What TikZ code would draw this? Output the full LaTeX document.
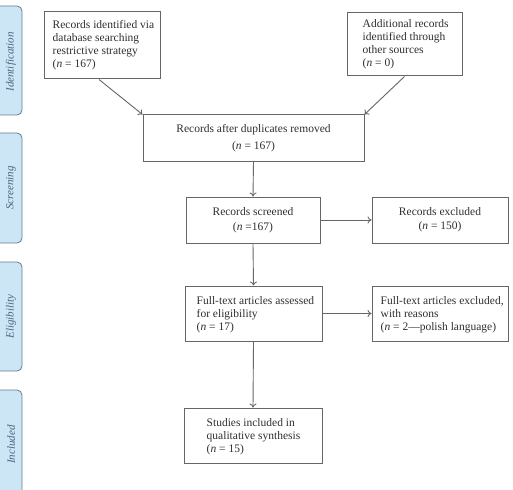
\documentclass[tikz,border=0pt]{standalone}
\usepackage{fontspec}
\setmainfont{Liberation Serif}
\usetikzlibrary{arrows.meta}
\definecolor{tabfill}{HTML}{CDE6F6}
\definecolor{tabline}{HTML}{647E91}
\definecolor{tabtext}{HTML}{45647E}
\definecolor{boxline}{HTML}{666666}
\definecolor{txt}{HTML}{2E2E2E}
\tikzset{
  box/.style={draw=boxline, line width=1pt, rectangle, inner sep=0pt},
  btext/.style={text=txt, font=\fontsize{11.5}{13}\selectfont, inner sep=0pt, align=left, anchor=west},
  ctext/.style={text=txt, font=\fontsize{11.5}{13}\selectfont, align=center},
  tab/.style={draw=tabline, fill=tabfill, line width=0.8pt, rounded corners=5pt},
  tablabel/.style={text=tabtext, font=\fontsize{11}{13}\selectfont\itshape, rotate=90},
  arr/.style={draw=boxline, line width=0.9pt, -{To[length=4pt,width=7pt]}}
}
\begin{document}
\begin{tikzpicture}[x=1pt,y=-1pt]
\useasboundingbox (0,0) rectangle (513,489);
\begin{scope}
\clip (0,0) rectangle (513,489);
\draw[tab] (-6,6) -- (22,6) -- (22,115) -- (-6,115) -- cycle;
\draw[tab] (-6,133) -- (22,133) -- (22,243) -- (-6,243) -- cycle;
\draw[tab] (-6,262) -- (22,262) -- (22,371) -- (-6,371) -- cycle;
\draw[tab] (-6,390) -- (22,390) -- (22,500) -- (-6,500) -- cycle;
\end{scope}
\node[tablabel] (l1) at (11,62) {Identification};
\node[tablabel] (l2) at (11,188) {Screening};
\node[tablabel] (l3) at (11,316.5) {Eligibility};
\node[tablabel] (l4) at (11,444.5) {Included};

% boxes
\node[box, minimum width=116pt, minimum height=67pt] (b1) at (102,45.5) {};
\node[btext] (t1) at ([xshift=9pt]b1.west) {Records identified via\\database searching\\restrictive strategy\\(\textit{n} = 167)};

\node[box, minimum width=115pt, minimum height=63pt] (b2) at (404.5,44.5) {};
\node[btext] (t2) at ([xshift=16pt]b2.west) {Additional records\\identified through\\other sources\\(\textit{n} = 0)};

\node[box, minimum width=221pt, minimum height=46pt, ctext] (b3) at (253.5,138) {Records after duplicates removed\\[4pt](\textit{n} = 167)};

\node[box, minimum width=134pt, minimum height=46pt, ctext] (b4) at (253,220) {Records screened\\[2pt](\textit{n} =167)};

\node[box, minimum width=136pt, minimum height=46pt, ctext] (b5) at (440,220) {Records excluded\\[1pt](\textit{n} = 150)};

\node[box, minimum width=137pt, minimum height=55pt] (b6) at (253.5,313.5) {};
\node[btext] (t6) at ([xshift=12pt,yshift=-1pt]b6.west) {Full-text articles assessed\\for eligibility\\(\textit{n} = 17)};

\node[box, minimum width=136pt, minimum height=55pt] (b7) at (440,313.5) {};
\node[btext] (t7) at ([xshift=9pt,yshift=-1pt]b7.west) {Full-text articles excluded,\\with reasons\\(\textit{n} = 2---polish language)};

\node[box, minimum width=138pt, minimum height=55pt] (b8) at (253,435.5) {};
\node[btext] (t8) at ([xshift=23pt,yshift=-1pt]b8.west) {Studies included in\\qualitative synthesis\\(\textit{n} = 15)};

% connectors
\draw[arr] ([xshift=-3pt]b1.south) -- (b3.north west);
\draw[arr] (b2.south) -- (b3.north east);
\draw[arr] (b3.south) -- (b4.north);
\draw[arr] (b4.east) -- (b5.west);
\draw[arr] (b4.south) -- (b6.north);
\draw[arr] (b6.east) -- (b7.west);
\draw[arr] (b6.south) -- (b8.north);
\end{tikzpicture}
\end{document}
